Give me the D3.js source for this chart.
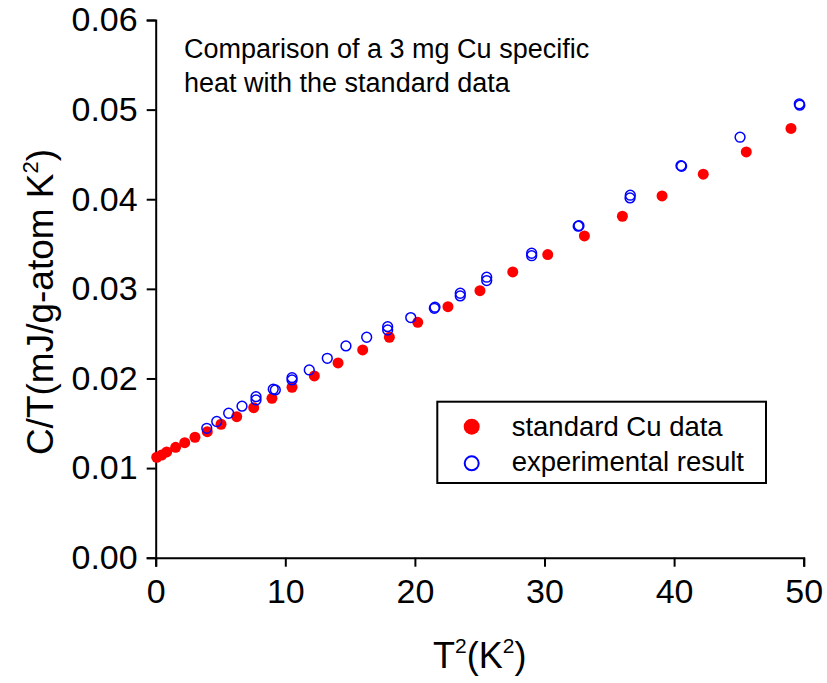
<!DOCTYPE html>
<html>
<head>
<meta charset="utf-8">
<script src="https://cdn.jsdelivr.net/npm/d3@7"></script>
<style>
  body { margin: 0; background: #fff; }
  svg { display: block; font-family: "Liberation Sans", Arial, sans-serif; }
</style>
</head>
<body>
<svg id="chart"></svg>
<script>
// standard Cu data (filled red)
var stdT2 = [0.08, 0.46, 0.85, 1.54, 2.24, 3.03, 3.98, 5.04, 6.25, 7.56, 8.97, 10.52, 12.24,
             14.07, 15.97, 18.03, 20.22, 22.55, 25.02, 27.55, 30.25, 33.08, 36.01, 39.07,
             42.25, 45.57, 49.02];
var stdCT = [0.01121, 0.01146, 0.0118, 0.01232, 0.01283, 0.01344, 0.01406, 0.01489, 0.01574,
             0.01674, 0.01779, 0.01902, 0.02028, 0.02173, 0.02318, 0.0246, 0.02627, 0.02801,
             0.0298, 0.03189, 0.03382, 0.0359, 0.0381, 0.04037, 0.04279, 0.04528, 0.0479];

// experimental result (open blue)
var expT2 = [3.94, 4.71, 5.63, 6.66, 7.74, 7.74, 9.07, 9.23, 10.52, 10.52, 11.85, 13.24, 14.68,
             16.28, 17.9, 17.9, 19.68, 21.5, 21.55, 23.5, 23.5, 25.54, 25.54, 29.01, 29.01,
             32.6, 32.66, 36.6, 36.62, 40.53, 40.58, 45.09, 49.66, 49.7];
var expCT = [0.01444, 0.0152, 0.01612, 0.01691, 0.0176, 0.01797, 0.0188, 0.01872, 0.01984,
             0.02009, 0.02095, 0.02225, 0.02363, 0.0246, 0.02541, 0.02578, 0.02679, 0.02783,
             0.02795, 0.02921, 0.02951, 0.03092, 0.0313, 0.0337, 0.03397, 0.03699, 0.03705,
             0.04015, 0.04045, 0.04375, 0.04368, 0.04692, 0.05064, 0.0505];

var xTicks = [0, 10, 20, 30, 40, 50];
var yTicks = [0, 0.01, 0.02, 0.03, 0.04, 0.05, 0.06];

var W = 827, H = 683;
var margin = {top: 20, right: 23.3, bottom: 125.3, left: 155.7},
    width = W - margin.left - margin.right,
    height = H - margin.top - margin.bottom;

var svg = d3.select("#chart")
    .attr("width", W)
    .attr("height", H);

var g = svg.append("g")
    .attr("transform", "translate(" + margin.left + "," + margin.top + ")");

var x = d3.scaleLinear().domain([0, 50]).range([0, width]);
var y = d3.scaleLinear().domain([0, 0.06]).range([height, 0]);

// axes
var xAxis = g.append("g")
    .attr("transform", "translate(0," + height + ")")
    .call(d3.axisBottom(x).tickValues(xTicks).tickSize(9).tickPadding(12).tickFormat(d3.format("d")));

var yAxis = g.append("g")
    .call(d3.axisLeft(y).tickValues(yTicks).tickSize(9).tickPadding(9).tickFormat(d3.format(".2f")));

[xAxis, yAxis].forEach(function(a) {
    a.select(".domain").attr("stroke", "#000").attr("stroke-width", 2);
    a.selectAll(".tick line").attr("stroke", "#000").attr("stroke-width", 2);
    a.selectAll(".tick text")
        .attr("fill", "#000")
        .style("font-size", "34px")
        .style("font-family", "Liberation Sans, Arial, sans-serif");
});

// standard data points
g.selectAll(".std")
    .data(stdT2.map(function(d, i) { return {x: d, y: stdCT[i]}; }))
    .enter().append("circle")
    .attr("class", "std")
    .attr("cx", function(d) { return x(d.x); })
    .attr("cy", function(d) { return y(d.y); })
    .attr("r", 5.5)
    .attr("fill", "#ff0000");

// experimental points
g.selectAll(".exp")
    .data(expT2.map(function(d, i) { return {x: d, y: expCT[i]}; }))
    .enter().append("circle")
    .attr("class", "exp")
    .attr("cx", function(d) { return x(d.x); })
    .attr("cy", function(d) { return y(d.y); })
    .attr("r", 4.9)
    .attr("fill", "none")
    .attr("stroke", "#0000ff")
    .attr("stroke-width", 1.5);

// annotation
var note = svg.append("text")
    .attr("font-size", 27)
    .attr("fill", "#000");
note.append("tspan").attr("x", 184).attr("y", 58).text("Comparison of a 3 mg Cu specific");
note.append("tspan").attr("x", 184).attr("y", 92).text("heat with the standard data");

// axis titles
var xt = svg.append("text")
    .attr("x", margin.left + width / 2)
    .attr("y", 668)
    .attr("text-anchor", "middle")
    .attr("font-size", 36)
    .attr("fill", "#000");
xt.append("tspan").text("T");
xt.append("tspan").attr("font-size", 21).attr("dy", -15).text("2");
xt.append("tspan").attr("dy", 15).text("(K");
xt.append("tspan").attr("font-size", 21).attr("dy", -15).text("2");
xt.append("tspan").attr("dy", 15).text(")");

var yt = svg.append("text")
    .attr("transform", "translate(53,302) rotate(-90)")
    .attr("text-anchor", "middle")
    .attr("font-size", 37)
    .attr("fill", "#000");
yt.append("tspan").text("C/T(mJ/g-atom K");
yt.append("tspan").attr("font-size", 22).attr("dy", -15).text("2");
yt.append("tspan").attr("dy", 15).text(")");

// legend
var lg = svg.append("g");
lg.append("rect")
    .attr("x", 437.3).attr("y", 401.7)
    .attr("width", 328.7).attr("height", 81.3)
    .attr("fill", "#fff")
    .attr("stroke", "#000")
    .attr("stroke-width", 2);
lg.append("circle").attr("cx", 471.7).attr("cy", 426.7).attr("r", 8).attr("fill", "#ff0000");
lg.append("circle").attr("cx", 471.7).attr("cy", 463.3).attr("r", 7)
    .attr("fill", "none").attr("stroke", "#0000ff").attr("stroke-width", 2);
lg.append("text").attr("x", 511.7).attr("y", 436).attr("font-size", 27.5).text("standard Cu data");
lg.append("text").attr("x", 511.7).attr("y", 471).attr("font-size", 27.5).text("experimental result");
</script>
</body>
</html>
